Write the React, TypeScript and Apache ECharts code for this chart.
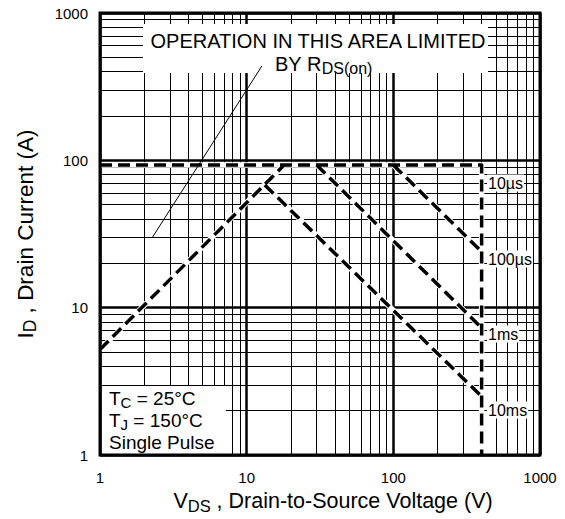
import React, { useEffect, useRef } from "react";
import * as echarts from "echarts";

// ---- axis ticks ----
const xTicks = [1, 10, 100, 1000];
const yTicks = [1, 10, 100, 1000];
const xMinorGrid = [2, 3, 4, 5, 6, 7, 8, 9, 20, 30, 40, 50, 60, 70, 80, 90, 200, 300, 400, 500, 600, 700, 800, 900];
const yMinorGrid = [2, 3, 4, 5, 6, 7, 8, 9, 20, 30, 40, 50, 60, 70, 80, 90, 200, 300, 400, 500, 600, 700, 800, 900];

// ---- SOA boundary curves [VDS (V), ID (A)] ----
const rdsLimit = [[1, 5.2], [18, 93]];
const pulse10us = [[1, 93], [400, 93], [400, 1]];
const pulse100us = [[100, 93], [400, 24]];
const pulse1ms = [[30, 93], [400, 7.3]];
const pulse10ms = [[13.3, 68], [400, 2.5]];
const annotationArrow = [[12.7, 437], [2.26, 29.7]];

const curveLabels = ["10\u00b5s", "100\u00b5s", "1ms", "10ms"];

const FONT = "'Liberation Sans', Arial, Helvetica, sans-serif";

function dashed(name: string, data: number[][]) {
  return [
    {
      name: name + "-under",
      type: "line",
      data,
      symbol: "none",
      zlevel: 2,
      z: 8,
      silent: true,
      lineStyle: { color: "#fff", width: 5.5, type: "solid" },
    },
    {
      name,
      type: "line",
      data,
      symbol: "none",
      zlevel: 2,
      z: 10,
      silent: true,
      lineStyle: { color: "#000", width: 3.5, type: [12, 6], join: "round" },
    },
  ];
}

export default function App() {
  const ref = useRef<HTMLDivElement>(null);
  useEffect(() => {
    if (!ref.current) return;
    const chart = echarts.init(ref.current, null, { renderer: "svg" });
    const sub = { fontFamily: FONT, color: "#000", padding: [9, 0, 0, 0] };
    const G = { zlevel: 1, z: 5 };
    const option: any = {
      animation: false,
      backgroundColor: "#fff",
      grid: {
        left: 100,
        top: 13,
        right: 25,
        bottom: 63,
        show: true,
        borderColor: "#000",
        borderWidth: 3,
        backgroundColor: "transparent",
        zlevel: 3,
      },
      xAxis: {
        type: "log",
        logBase: 10,
        zlevel: 0,
        z: 0,
        min: xTicks[0],
        max: xTicks[xTicks.length - 1],
        name: "V{sub|DS} , Drain-to-Source Voltage (V)",
        nameLocation: "middle",
        nameGap: 27,
        nameTextStyle: {
          fontSize: 21.5,
          fontFamily: FONT,
          color: "#000",
          padding: [0, 0, 0, 26],
          rich: { sub: { ...sub, fontSize: 16.5 } },
        },
        axisLine: { show: false },
        axisTick: { show: false },
        axisLabel: {
          fontSize: 15,
          fontFamily: FONT,
          color: "#000",
          margin: 15,
          formatter: (v: number) => String(v),
        },
        splitLine: { show: true, lineStyle: { color: "#000", width: 2.5 } },
      },
      yAxis: {
        type: "log",
        logBase: 10,
        zlevel: 0,
        z: 0,
        min: yTicks[0],
        max: yTicks[yTicks.length - 1],
        name: "I{sub|D} , Drain Current (A)",
        nameLocation: "middle",
        nameGap: 61,
        nameTextStyle: {
          fontSize: 22.5,
          fontFamily: FONT,
          color: "#000",
          rich: { sub: { ...sub, fontSize: 17.5 } },
        },
        axisLine: { show: false },
        axisTick: { show: false },
        axisLabel: {
          fontSize: 15,
          fontFamily: FONT,
          color: "#000",
          margin: 12,
          formatter: (v: number) => String(v),
        },
        splitLine: { show: true, lineStyle: { color: "#000", width: 2.5 } },
      },
      graphic: {
        zlevel: 1,
        z: 5,
        elements: [
          {
            type: "rect",
            ...G,
            shape: { x: 143, y: 24, width: 345, height: 49 },
            style: { fill: "#fff" },
          },
          {
            type: "rect",
            ...G,
            shape: { x: 102, y: 386, width: 124, height: 68 },
            style: { fill: "#fff" },
          },
          {
            type: "text",
            ...G,
            z: 6,
            x: 318,
            y: 41,
            style: {
              text: "OPERATION IN THIS AREA LIMITED",
              fontSize: 20,
              fontFamily: FONT,
              fill: "#000",
              align: "center",
              verticalAlign: "middle",
            },
          },
          {
            type: "text",
            ...G,
            z: 6,
            x: 275,
            y: 64,
            style: {
              text: "BY R{sub|DS(on)}",
              fontSize: 20,
              fontFamily: FONT,
              fill: "#000",
              align: "left",
              verticalAlign: "middle",
              rich: { sub: { fontSize: 16, fontFamily: FONT, padding: [9, 0, 0, 0] } },
            },
          },
          {
            type: "text",
            ...G,
            z: 6,
            x: 109,
            y: 398,
            style: {
              text: "T{sub|C} = 25\u00b0C",
              fontSize: 19,
              fontFamily: FONT,
              fill: "#000",
              verticalAlign: "middle",
              rich: { sub: { fontSize: 15, fontFamily: FONT, padding: [8, 0, 0, 0] } },
            },
          },
          {
            type: "text",
            ...G,
            z: 6,
            x: 109,
            y: 420,
            style: {
              text: "T{sub|J} = 150\u00b0C",
              fontSize: 19,
              fontFamily: FONT,
              fill: "#000",
              verticalAlign: "middle",
              rich: { sub: { fontSize: 15, fontFamily: FONT, padding: [8, 0, 0, 0] } },
            },
          },
          {
            type: "text",
            ...G,
            z: 6,
            x: 109,
            y: 442,
            style: {
              text: "Single Pulse",
              fontSize: 19,
              fontFamily: FONT,
              fill: "#000",
              verticalAlign: "middle",
            },
          },
          ...curveLabels.map((t, i) => ({
            type: "text",
            ...G,
            z: 6,
            x: 487,
            y: [183, 259, 334, 410][i],
            style: {
              text: t,
              fontSize: 16,
              fontFamily: FONT,
              fill: "#000",
              backgroundColor: "#fff",
              padding: [1, 1, 0, 1],
              verticalAlign: "middle",
            },
          })),
        ],
      },
      series: [
        {
          name: "minor-grid",
          type: "line",
          data: [],
          zlevel: 0,
          z: 1,
          silent: true,
          markLine: {
            silent: true,
            zlevel: 0,
            z: 1,
            symbol: ["none", "none"],
            label: { show: false },
            animation: false,
            lineStyle: { color: "#000", width: 1, type: "solid" },
            data: [
              ...xMinorGrid.map((v) => ({ xAxis: v })),
              ...yMinorGrid.map((v) => ({ yAxis: v })),
            ],
          },
        },
        {
          name: "arrow",
          type: "line",
          data: annotationArrow,
          symbol: "none",
          zlevel: 2,
          z: 9,
          silent: true,
          lineStyle: { color: "#000", width: 1 },
        },
        ...dashed("RDS(on) limit", rdsLimit),
        ...dashed("10us", pulse10us),
        ...dashed("100us", pulse100us),
        ...dashed("1ms", pulse1ms),
        ...dashed("10ms", pulse10ms),
      ],
    };
    chart.setOption(option);
    return () => chart.dispose();
  }, []);
  return <div ref={ref} style={{ width: 565, height: 519, position: "absolute", left: 0, top: 0 }} />;
}
